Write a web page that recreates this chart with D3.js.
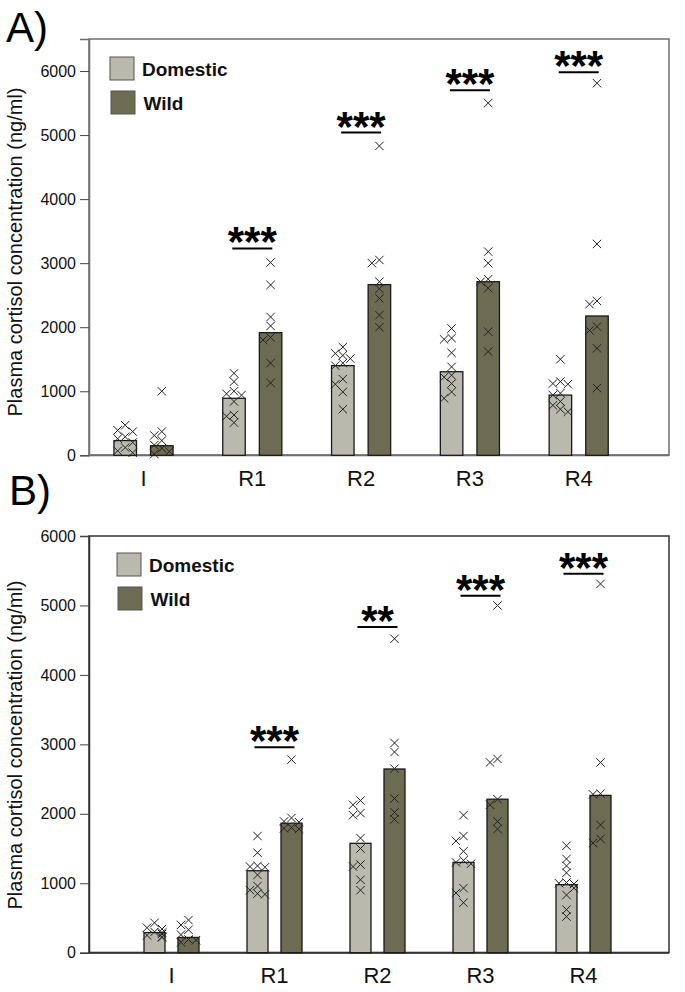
<!DOCTYPE html>
<html><head><meta charset="utf-8">
<script src="https://cdn.jsdelivr.net/npm/d3@7/dist/d3.min.js"></script>
<style>body{margin:0;background:#fff}svg{display:block;font-family:Arial,"Liberation Sans",sans-serif}</style>
</head><body><svg id="c" width="685" height="992"></svg>
<script>
const categories = ["I","R1","R2","R3","R4"];
const seriesNames = ["Domestic","Wild"];
const yTicks = [0,1000,2000,3000,4000,5000,6000];

// Panel A
const meanA_dom  = [230, 890, 1400, 1305, 940];
const meanA_wild = [150, 1915, 2665, 2710, 2175];
const ptsA_dom = [
  [470, 390, 370, 290, 260, 200, 120, 70, 40],
  [1280, 1150, 1000, 960, 940, 840, 630, 610, 510],
  [1690, 1590, 1560, 1510, 1440, 1400, 1190, 1110, 990, 720],
  [1980, 1830, 1810, 1600, 1380, 1250, 1220, 1120, 990, 890],
  [1500, 1150, 1120, 1110, 970, 940, 840, 780, 720, 680]
];
const ptsA_wild = [
  [1000, 370, 310, 230, 160, 110, 60, 20],
  [3010, 2660, 2160, 2020, 1840, 1800, 1440, 1130],
  [4830, 3050, 3000, 2710, 2600, 2450, 2190, 2000],
  [5500, 3180, 3000, 2750, 2710, 2610, 1930, 1620],
  [5810, 3300, 2410, 2360, 2010, 1950, 1670, 1050]
];
const sigA_label = ["", "***", "***", "***", "***"];
const sigA_level = [0, 3230, 5040, 5700, 5980];

// Panel B
const meanB_dom  = [290, 1180, 1575, 1300, 980];
const meanB_wild = [220, 1865, 2645, 2210, 2265];
const ptsB_dom = [
  [430, 360, 340, 300, 290, 270, 250, 230, 220],
  [1680, 1440, 1250, 1240, 1230, 1120, 960, 900, 850, 840],
  [2190, 2130, 2010, 1980, 1650, 1500, 1270, 1240, 1050, 900],
  [1980, 1680, 1610, 1460, 1330, 1300, 1280, 930, 860, 720],
  [1540, 1350, 1250, 1150, 1010, 1000, 990, 930, 830, 620, 520]
];
const ptsB_wild = [
  [470, 400, 330, 260, 190, 180, 150],
  [2780, 1940, 1890, 1880, 1800, 1790, 1780],
  [4520, 3020, 2890, 2650, 2220, 2020, 1920],
  [5000, 2790, 2740, 2210, 2130, 1890, 1780],
  [5310, 2740, 2290, 2280, 1840, 1640, 1580]
];
const sigB_label = ["", "***", "**", "***", "***"];
const sigB_level = [0, 2960, 4690, 5140, 5455];

const colors = {Domestic:"#b9baad", Wild:"#6c6c53"};
const svg = d3.select("#c");

function panel(o){
  const g = svg.append("g");
  const y = d3.scaleLinear().domain([0,o.ymax]).range([o.bottom,o.top]);
  const x = d3.scalePoint().domain(categories).range(o.xr);
  g.append("rect").attr("x",o.left).attr("y",o.top).attr("width",o.right-o.left).attr("height",o.bottom-o.top)
    .attr("fill","none").attr("stroke",o.frame).attr("stroke-width",1.5);
  const ax = g.append("g").attr("transform",`translate(${o.left},0)`)
    .call(d3.axisLeft(y).tickValues(yTicks).tickSize(9).tickPadding(4).tickFormat(d3.format("d")));
  ax.select(".domain").attr("stroke",o.frame).attr("stroke-width",1.5);
  ax.selectAll(".tick line").attr("stroke","#444");
  ax.selectAll("text").attr("font-size",16).attr("fill","#111").attr("font-family","Arial, 'Liberation Sans', sans-serif");
  g.selectAll(".cl").data(categories).join("text")
    .attr("x",d=>x(d)).attr("y",o.labY).attr("text-anchor","middle")
    .attr("font-size",22).attr("fill","#111").text(d=>d);
  g.append("line").attr("x1",o.left).attr("x2",o.right).attr("y1",o.bottom).attr("y2",o.bottom)
    .attr("stroke",o.frame).attr("stroke-width",2);
  g.append("text").attr("transform",`translate(22,${o.ylabY}) rotate(-90)`).attr("text-anchor","middle")
    .attr("font-size",20).attr("fill","#111").text("Plasma cortisol concentration (ng/ml)");
  g.append("text").attr("x",o.letterX).attr("y",o.letterY).attr("font-size",42).attr("fill","#000").text(o.letter);
  const series = [
    {name:"Domestic", means:o.meanDom, pts:o.ptsDom, off:-o.off},
    {name:"Wild", means:o.meanWild, pts:o.ptsWild, off:o.off}
  ];
  series.forEach(s=>{
    g.selectAll(null).data(categories).join("rect")
      .attr("x",(d,i)=>x(d)+s.off-o.bw/2).attr("width",o.bw)
      .attr("y",(d,i)=>y(s.means[i])).attr("height",(d,i)=>o.bottom-y(s.means[i]))
      .attr("fill",colors[s.name]).attr("stroke","#1a1a1a").attr("stroke-width",1.3);
  });
  series.forEach(s=>{
    categories.forEach((c,i)=>{
      const cx = x(c)+s.off;
      const placed = [];
      const vals = s.pts[i].slice().sort((a,b)=>b-a);
      vals.forEach(v=>{
        const py = y(v);
        let dx = 0;
        for (const cand of [0,-7.5,7.5]) {
          if (!placed.some(p=>p.dx===cand && Math.abs(p.py-py)<6.5)) { dx=cand; break; }
          dx = cand;
        }
        placed.push({dx,py});
        const px = cx+dx, r=4.2;
        g.append("path").attr("d",`M${px-r},${py-r}L${px+r},${py+r}M${px-r},${py+r}L${px+r},${py-r}`)
          .attr("stroke","#222").attr("stroke-width",1).attr("fill","none");
      });
    });
  });
  categories.forEach((c,i)=>{
    if(!o.sigLab[i]) return;
    const ly = y(o.sigLev[i]);
    g.append("line").attr("x1",x(c)-20).attr("x2",x(c)+20).attr("y1",ly).attr("y2",ly)
      .attr("stroke","#000").attr("stroke-width",2);
    g.append("text").attr("x",x(c)).attr("y",ly+8).attr("text-anchor","middle")
      .attr("font-size",42).attr("font-weight","bold").attr("fill","#000").text(o.sigLab[i]);
  });
  seriesNames.forEach((n,k)=>{
    g.append("rect").attr("x",o.legX+k).attr("y",o.legY+k*o.legDy).attr("width",24).attr("height",23)
      .attr("fill",colors[n]).attr("stroke","#555").attr("stroke-width",1);
    g.append("text").attr("x",o.legX+32+k*1.5).attr("y",o.legY+k*o.legDy+19).attr("font-size",19)
      .attr("font-weight","bold").attr("fill","#111").text(n);
  });
}

panel({left:89,right:669,top:39,bottom:455.3,ymax:6500,xr:[143.5,578.7],bw:22.5,off:18.3,
  frame:"#6e6e6e",labY:486,ylabY:252,letter:"A)",letterX:6,letterY:42,
  meanDom:meanA_dom,meanWild:meanA_wild,ptsDom:ptsA_dom,ptsWild:ptsA_wild,
  sigLab:sigA_label,sigLev:sigA_level,legX:110,legY:57,legDy:34});
panel({left:89,right:669,top:536,bottom:952.7,ymax:6000,xr:[171.5,583.5],bw:21,off:17,
  frame:"#333",labY:983,ylabY:745,letter:"B)",letterX:9,letterY:505,
  meanDom:meanB_dom,meanWild:meanB_wild,ptsDom:ptsB_dom,ptsWild:ptsB_wild,
  sigLab:sigB_label,sigLev:sigB_level,legX:117,legY:553,legDy:34});
</script></body></html>
